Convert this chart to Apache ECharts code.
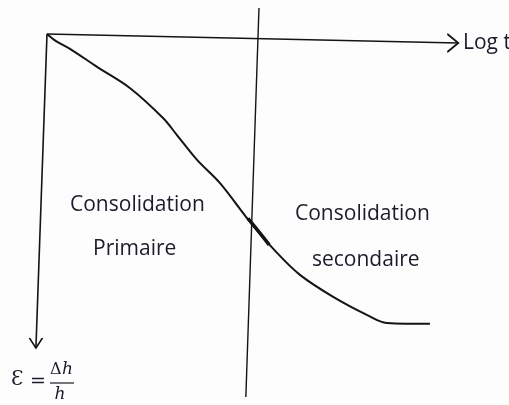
<!DOCTYPE html>
<html>
<head>
<meta charset="utf-8">
<script src="https://cdn.jsdelivr.net/npm/echarts@6/dist/echarts.min.js"></script>
<style>
html,body{margin:0;padding:0;background:#fdfdfd;}
#chart{width:509px;height:405px;}
</style>
</head>
<body>
<div id="chart"></div>
<script>
// diagram units: x = log t, y = deformation (downwards)
var logTAxis = [[0, 0], [10.02, 0.29]];
var epsAxis = [[0, 0], [-0.27, 10.13]];
var separator = [[5.17, -0.84], [4.85, 11.71]];
var curve = [
	[0, 0], [0.22, 0.23], [0.56, 0.48], [1.22, 1.06], [2.02, 1.74],
	[2.83, 2.71], [3.17, 3.26], [3.66, 4.06], [4.22, 4.81], [4.95, 6.06],
	[5.61, 7.06], [6.17, 7.77], [6.98, 8.48], [7.80, 9.06], [8.29, 9.32],
	[9.34, 9.35]
];
var thickPart = [[4.9, 5.95], [5.15, 6.35], [5.42, 6.8]];
var labels = ["Consolidation", "Primaire", "Consolidation", "secondaire"];

(function(){
	var ink = "#141414";
	var textCol = "#1b1b2b";
	var txtFont = "21px 'Open Sans'";
	var myChart = echarts.init(document.getElementById("chart"));

	function withArrow(points, path, size, offset){
		return points.map(function(p, i){
			if(i < points.length - 1){
				return {value: p, symbol: "none"};
			}
			return {
				value: p,
				symbol: path,
				symbolSize: size,
				symbolOffset: offset,
				itemStyle: {color: "rgba(0,0,0,0)", borderColor: ink, borderWidth: 1.6}
			};
		});
	}

	function lineSeries(data, width, smooth){
		return {
			type: "line",
			data: data,
			symbol: "none",
			smooth: smooth || false,
			clip: false,
			silent: true,
			animation: false,
			lineStyle: {color: ink, width: width}
		};
	}

	function label(text, x, y, font){
		return {
			type: "text",
			x: x, y: y,
			style: {text: text, font: font || txtFont, fill: textCol, textAlign: "left", textVerticalAlign: "middle"}
		};
	}

	var option = {
		backgroundColor: "#fdfdfd",
		// one unit = 41px horizontally, 31px vertically; origin of the sketch at (47,34)
		grid: {left: 6, top: 3, width: 451, height: 341},
		xAxis: {type: "value", min: -1, max: 10, show: false},
		yAxis: {type: "value", min: -1, max: 10, inverse: true, show: false},
		series: [
			lineSeries(withArrow(logTAxis, "path://M0,0 L10,8 L0,16", [11, 18], [-5, 0]), 1.6),
			lineSeries(withArrow(epsAxis, "path://M0,0 L7,9 L14,0", [13, 10], [0, -5]), 1.6),
			lineSeries(separator, 1.4),
			lineSeries(curve, 2, 0.35),
			lineSeries(thickPart, 3.5, 0.3)
		],
		graphic: [
			label(labels[0], 70, 205),
			label(labels[1], 93, 249),
			label(labels[2], 295, 214),
			label(labels[3], 312, 260),
			label("Log t", 463, 43, "21px 'Open Sans'"),
			{
				type: "text", x: 11, y: 380,
				style: {text: "Ɛ", font: "20px 'DejaVu Serif'", fill: textCol, textVerticalAlign: "middle"}
			},
			{
				type: "text", x: 30, y: 382,
				style: {text: "=", font: "19px 'DejaVu Serif'", fill: textCol, textVerticalAlign: "middle"}
			},
			{
				type: "text", x: 50, y: 370,
				style: {text: "Δ", font: "16px 'DejaVu Serif'", fill: textCol, textVerticalAlign: "middle"}
			},
			{
				type: "text", x: 62, y: 370,
				style: {text: "h", font: "italic 17px 'DejaVu Serif'", fill: textCol, textVerticalAlign: "middle"}
			},
			{
				type: "line",
				shape: {x1: 50, y1: 383, x2: 74, y2: 383},
				style: {stroke: textCol, lineWidth: 1.2}
			},
			{
				type: "text", x: 60, y: 395,
				style: {text: "h", font: "italic 17px 'DejaVu Serif'", fill: textCol, textAlign: "center", textVerticalAlign: "middle"}
			}
		]
	};
	myChart.setOption(option);
})();
</script>
</body>
</html>
